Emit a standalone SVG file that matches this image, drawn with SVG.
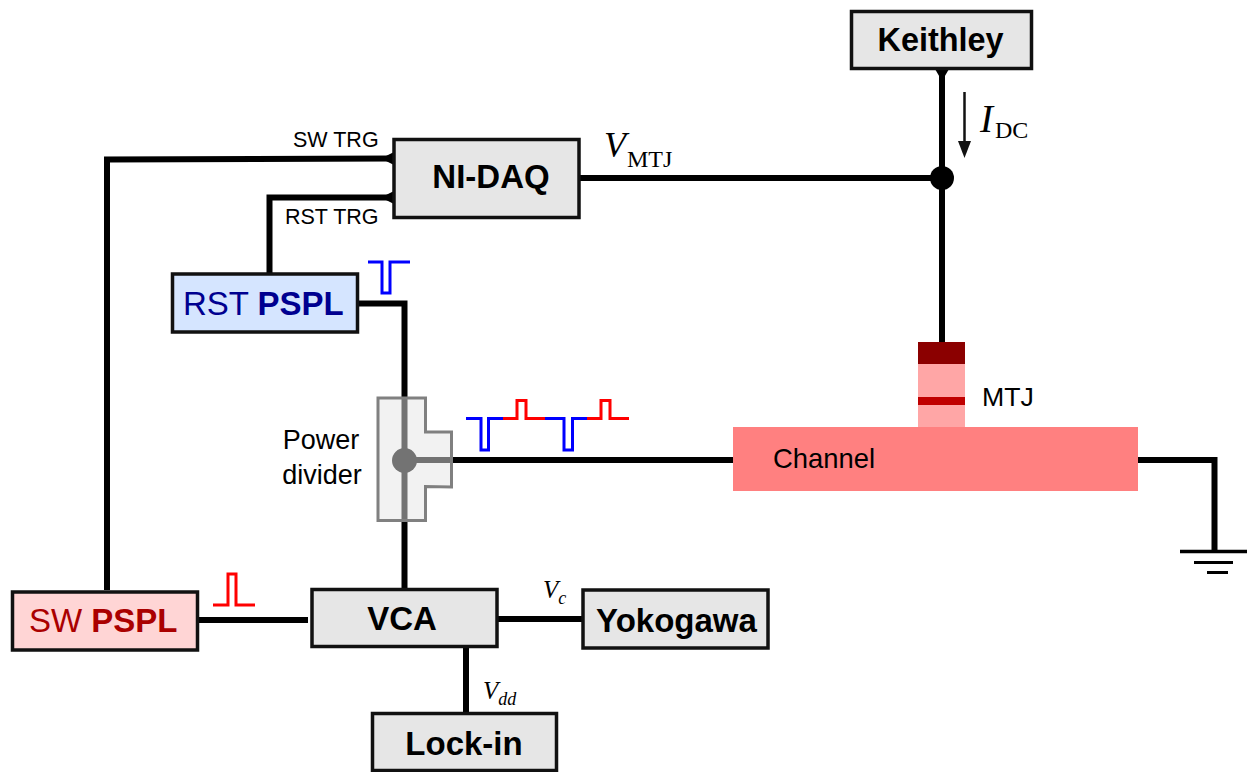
<svg xmlns="http://www.w3.org/2000/svg" width="1248" height="772" viewBox="0 0 1248 772">
<style>
.box{stroke:#111;stroke-width:3.5;fill:#e6e6e6}
.wire{fill:none;stroke:#000;stroke-width:6;stroke-linejoin:miter}
.pulse{fill:none;stroke-width:3}
.s{font-family:"Liberation Sans",Arial,sans-serif;fill:#000}
.b{font-weight:bold;font-size:33px;text-anchor:middle}
.m{font-family:"Liberation Serif","Times New Roman",serif;fill:#000}
.i{font-style:italic}
</style>
<rect width="1248" height="772" fill="#fff"/>
<g id="channel-stack">
<rect x="733" y="427" width="405" height="64" fill="#ff8080"/>
<rect x="918" y="364" width="47" height="63" fill="#ffa6a6"/>
<rect x="918" y="342" width="47" height="22" fill="#8b0000"/>
<rect x="918" y="397" width="47" height="8" fill="#c00000"/>
<text class="s" x="773" y="468" font-size="27.4">Channel</text>
<text class="s" x="982" y="406" font-size="26.7">MTJ</text>
</g>
<g id="connectors">
<path class="wire" d="M107 590V159.500L393 158.500"/>
<path class="wire" d="M269.500 274V197.500H393"/>
<path class="wire" d="M579 178H942"/>
<path class="wire" d="M942 69V342"/>
<path class="wire" d="M358 303.500H404.500V589"/>
<path class="wire" d="M404.500 460H733"/>
<path class="wire" d="M1138 460H1214.500V551"/>
<path class="wire" d="M197 620H308"/>
<path class="wire" d="M497 619H582"/>
<path class="wire" d="M466 647V713"/>
<path d="M1180 551.500H1247" stroke="#000" stroke-width="3.500"/>
<path d="M1194 562.500H1233" stroke="#000" stroke-width="3"/>
<path d="M1207 572.500H1228" stroke="#000" stroke-width="3"/>
<polygon points="381,158.500 394,152 394,165" fill="#000"/>
<polygon points="381,197.500 394,191 394,204" fill="#000"/>
<polygon points="942,81 935,69 949,69" fill="#000"/>
<circle cx="942" cy="178" r="12" fill="#000"/>
<circle cx="404.500" cy="460.500" r="12.500" fill="#000"/>
<path d="M964.500 92V145" stroke="#111" stroke-width="2.500"/>
<polygon points="958,141 971,141 964.500,158" fill="#111"/>
</g>
<g id="power-divider">
<polygon points="378,398 425.500,398 425.500,432 451.500,432 451.500,487 425.500,486.500 425.500,520.500 378,520.500" fill="#e6e6e6" fill-opacity=".5" stroke="#808080" stroke-width="3"/>
<text class="s" x="321" y="449" font-size="27" text-anchor="middle">Power</text>
<text class="s" x="322" y="483.500" font-size="27" text-anchor="middle">divider</text>
</g>
<g id="pulses">
<path class="pulse" stroke="#0000ff" d="M368 262H382V293H390V262H410"/>
<path class="pulse" stroke="#ff0000" d="M213 605H228V574H236V605H255"/>
<path class="pulse" stroke="#0000ff" d="M466 418.500H481V450H488.500V418.500H503"/>
<path class="pulse" stroke="#ff0000" d="M503 418.500H517V400.500H526V418.500H545"/>
<path class="pulse" stroke="#0000ff" d="M545 418.500H564V450H572.500V418.500H587"/>
<path class="pulse" stroke="#ff0000" d="M587 418.500H601V400.500H610V418.500H629"/>
</g>
<g id="ni-daq">
<rect class="box" x="394" y="139.500" width="185" height="78"/>
<text class="s b" x="491" y="188">NI-DAQ</text>
<text class="s" x="293" y="147" font-size="21.500">SW TRG</text>
<text class="s" x="285" y="224" font-size="21.500">RST TRG</text>
</g>
<g id="keithley">
<rect class="box" x="851.500" y="11.500" width="180" height="57"/>
<text class="s b" x="940.500" y="51" style="font-size:32.400px">Keithley</text>
</g>
<g id="rst-pspl">
<rect class="box" x="172.500" y="274" width="185" height="58" style="fill:#d5e5ff"/>
<text class="s" x="183" y="315" font-size="33" style="fill:#000090">RST <tspan font-weight="bold">PSPL</tspan></text>
</g>
<g id="sw-pspl">
<rect class="box" x="12.500" y="592" width="185" height="58" style="fill:#ffd5d5"/>
<text class="s" x="29" y="632" font-size="33" style="fill:#aa0000">SW <tspan font-weight="bold">PSPL</tspan></text>
</g>
<g id="vca">
<rect class="box" x="312" y="589.500" width="185" height="57"/>
<text class="s b" x="402" y="630">VCA</text>
</g>
<g id="yokogawa">
<rect class="box" x="583" y="590" width="185" height="58"/>
<text class="s b" x="676.500" y="632">Yokogawa</text>
</g>
<g id="lock-in">
<rect class="box" x="372.500" y="713.500" width="184" height="57"/>
<text class="s b" x="464" y="755">Lock-in</text>
</g>
<g id="labels">
<text class="m" x="980" y="132" font-size="39"><tspan class="i">I</tspan><tspan font-size="24" dx="2" dy="6">DC</tspan></text>
<text class="m" x="604" y="157" font-size="36"><tspan class="i">V</tspan><tspan font-size="24" dx="1" dy="10">MTJ</tspan></text>
<text class="m i" x="543" y="598" font-size="25">V<tspan font-size="18" dx="0" dy="6">c</tspan></text>
<text class="m i" x="483" y="699" font-size="25">V<tspan font-size="18" dx="0" dy="6">dd</tspan></text>
</g>
</svg>
